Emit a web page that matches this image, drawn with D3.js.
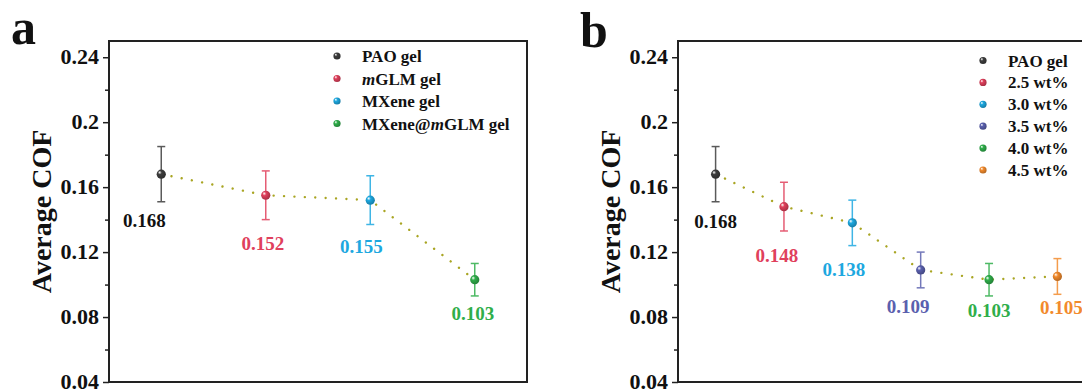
<!DOCTYPE html>
<html>
<head>
<meta charset="utf-8">
<script src="https://cdn.jsdelivr.net/npm/d3@7"></script>
<style>
  body { margin: 0; background: #fff; }
  text { font-family: "Liberation Serif", "Times New Roman", serif; font-weight: bold; }
</style>
</head>
<body>
<div id="container"></div>
<script>
let w = 1082;
let h = 392;

// ---- data ----
let catsA = ["PAO gel", "mGLM gel", "MXene gel", "MXene@mGLM gel"];
let cofA = [0.168, 0.155, 0.152, 0.103];
let errA = [0.017, 0.015, 0.015, 0.010];
let labelsA = ["0.168", "0.152", "0.155", "0.103"];

let catsB = ["PAO gel", "2.5 wt%", "3.0 wt%", "3.5 wt%", "4.0 wt%", "4.5 wt%"];
let cofB = [0.168, 0.148, 0.138, 0.109, 0.103, 0.105];
let errB = [0.017, 0.015, 0.014, 0.011, 0.010, 0.011];
let labelsB = ["0.168", "0.148", "0.138", "0.109", "0.103", "0.105"];

let yTicks = [0.04, 0.08, 0.12, 0.16, 0.2, 0.24];

let colorsA = ["#3d3d3d", "#e0405c", "#1da8e0", "#2fae4a"];
let colorsB = ["#3d3d3d", "#e0405c", "#1da8e0", "#5a60ae", "#2fae4a", "#f28a2c"];

let viz = d3.select("#container")
  .append("svg")
    .attr("width", w)
    .attr("height", h)
;

let defs = viz.append("defs");
function sphere(color, id) {
  let g = defs.append("radialGradient").attr("id", id)
    .attr("cx", "40%").attr("cy", "40%").attr("r", "60%")
    .attr("fx", "32%").attr("fy", "30%");
  g.append("stop").attr("offset", "0%").attr("stop-color", "#ffffff").attr("stop-opacity", 0.9);
  g.append("stop").attr("offset", "35%").attr("stop-color", color);
  g.append("stop").attr("offset", "100%").attr("stop-color", d3.color(color).darker(0.8));
  return "url(#" + id + ")";
}

let y = d3.scaleLinear().domain([0.04, 0.25]).range([382, 41]);

function drawPanel(opts) {
  let x = d3.scaleLinear().domain(opts.domain).range(opts.range);
  let g = viz.append("g").attr("class", "panel");

  // panel letter
  g.append("text")
    .text(opts.letter)
    .attr("x", opts.letterX)
    .attr("y", opts.letterY)
    .attr("font-size", 50)
    .attr("fill", "#111");

  // frame
  g.append("rect")
    .attr("x", opts.range[0])
    .attr("y", y(0.25))
    .attr("width", opts.range[1] - opts.range[0])
    .attr("height", y(0.04) - y(0.25))
    .attr("fill", "none")
    .attr("stroke", "#222")
    .attr("stroke-width", 2);

  // y axis
  let yAxis = d3.axisLeft(y).tickValues(yTicks).tickSize(6).tickPadding(4).tickFormat(d => String(d));
  let yAxisGroup = g.append("g").attr("class", "yaxis")
    .attr("transform", "translate(" + opts.range[0] + ", 0)")
    .call(yAxis);
  yAxisGroup.select(".domain").remove();
  yAxisGroup.selectAll("line").attr("stroke", "#222").attr("stroke-width", 1.5);
  yAxisGroup.selectAll("text")
    .attr("font-size", 22)
    .attr("dy", "0.3em")
    .attr("font-family", "Liberation Serif, serif")
    .attr("font-weight", "bold")
    .attr("fill", "#111");

  let minor = yTicks.slice(0, -1).map((d, i) => (d + yTicks[i + 1]) / 2);
  let minorGroup = g.append("g")
    .attr("transform", "translate(" + opts.range[0] + ", 0)")
    .call(d3.axisLeft(y).tickValues(minor).tickSize(4).tickFormat(""));
  minorGroup.select(".domain").remove();
  minorGroup.selectAll("line").attr("stroke", "#222").attr("stroke-width", 1.5);

  // y title
  g.append("text")
    .text("Average COF")
    .attr("transform", "translate(" + (opts.range[0] - 58) + "," + ((y(0.04) + y(0.25)) / 2) + ") rotate(-90)")
    .attr("text-anchor", "middle")
    .attr("font-size", 28)
    .attr("fill", "#111");

  let data = opts.values.map((v, i) => ({
    i: i + 1, v: v, e: opts.errs[i], label: opts.labels[i],
    color: opts.colors[i], fill: sphere(opts.colors[i], opts.letter + "s" + i), nudge: opts.nudge[i]
  }));

  // dotted connecting line
  let line = d3.line().x(d => x(d.i)).y(d => y(d.v));
  g.append("path")
    .datum(data)
    .attr("d", line)
    .attr("fill", "none")
    .attr("stroke", "#a9a523")
    .attr("stroke-width", 2.4)
    .attr("stroke-linecap", "round")
    .attr("stroke-dasharray", "0.01 10.4");

  // error bars
  let bars = g.selectAll(".err").data(data).enter().append("g").attr("class", "err")
    .attr("stroke", d => d3.interpolateRgb(d.color, "#ffffff")(0.15))
    .attr("stroke-width", 1.5);
  bars.append("line")
    .attr("x1", d => x(d.i)).attr("x2", d => x(d.i))
    .attr("y1", d => y(d.v + d.e)).attr("y2", d => y(d.v - d.e));
  bars.append("line")
    .attr("x1", d => x(d.i) - 4).attr("x2", d => x(d.i) + 4)
    .attr("y1", d => y(d.v + d.e)).attr("y2", d => y(d.v + d.e));
  bars.append("line")
    .attr("x1", d => x(d.i) - 4).attr("x2", d => x(d.i) + 4)
    .attr("y1", d => y(d.v - d.e)).attr("y2", d => y(d.v - d.e));

  // points
  g.selectAll(".pt").data(data).enter().append("circle")
    .attr("class", "pt")
    .attr("cx", d => x(d.i))
    .attr("cy", d => y(d.v))
    .attr("r", 4.6)
    .attr("fill", d => d.fill);

  // value labels
  g.selectAll(".val").data(data).enter().append("text")
    .attr("class", "val")
    .text(d => d.label)
    .attr("x", d => x(d.i) + d.nudge[0])
    .attr("y", d => y(d.v - d.e) + d.nudge[1])
    .attr("text-anchor", "middle")
    .attr("font-size", 19)
    .attr("fill", d => d.color === "#3d3d3d" ? "#111" : d.color);

  // legend
  let leg = g.selectAll(".leg").data(data).enter().append("g")
    .attr("class", "leg")
    .attr("transform", (d, i) => "translate(" + opts.legendX + "," + (opts.legendY + i * opts.legendStep) + ")");
  leg.append("circle").attr("r", 3.6).attr("fill", d => d.fill);
  leg.append("text")
    .attr("x", 25)
    .attr("y", 6)
    .attr("font-size", 17)
    .attr("fill", "#111")
    .each(function(d, i) {
      let t = d3.select(this);
      let name = opts.cats[i];
      let parts = name.split("mGLM");
      if (parts.length > 1) {
        t.append("tspan").text(parts[0]);
        t.append("tspan").text("m").attr("font-style", "italic");
        t.append("tspan").text("GLM" + parts[1]);
      } else {
        t.text(name);
      }
    });
}

drawPanel({
  letter: "a", letterX: 11, letterY: 44,
  domain: [0.5, 4.5], range: [109, 527],
  cats: catsA, values: cofA, errs: errA, labels: labelsA, colors: colorsA,
  nudge: [[-17, 25], [-3, 30], [-9, 29], [-2, 24]],
  legendX: 337, legendY: 56, legendStep: 22.5
});

drawPanel({
  letter: "b", letterX: 580, letterY: 47,
  domain: [0.45, 6.55], range: [678, 1095],
  cats: catsB, values: cofB, errs: errB, labels: labelsB, colors: colorsB,
  nudge: [[0, 26], [-7, 31], [-8.5, 30], [-12.5, 25], [0, 21], [4, 20]],
  legendX: 983, legendY: 60.5, legendStep: 21.9
});
</script>
</body>
</html>
